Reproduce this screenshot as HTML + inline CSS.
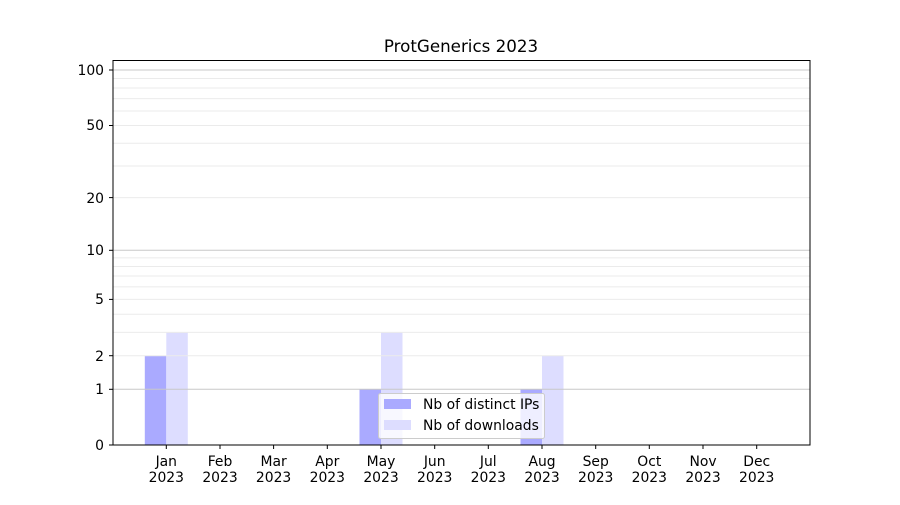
<!DOCTYPE html>
<html><head><meta charset="utf-8"><style>
body{margin:0;background:#fff}
svg text{font-family:"DejaVu Sans","Liberation Sans",sans-serif;font-size:13.9px;fill:#000}
</style></head><body>
<svg width="900" height="500" viewBox="0 0 900 500">
<rect width="900" height="500" fill="#fff"/>
<text x="461" y="52" text-anchor="middle" style="font-size:16.7px">ProtGenerics 2023</text>
<g>
<rect x="144.8" y="355.7" width="21.5" height="89.3" fill="#aaaaff"/>
<rect x="166.3" y="332.4" width="21.5" height="112.6" fill="#ddddff"/>
<rect x="359.5" y="389.3" width="21.5" height="55.7" fill="#aaaaff"/>
<rect x="381" y="332.4" width="21.5" height="112.6" fill="#ddddff"/>
<rect x="520.5" y="389.3" width="21.5" height="55.7" fill="#aaaaff"/>
<rect x="542" y="355.7" width="21.5" height="89.3" fill="#ddddff"/>
</g>
<g stroke="#ebebeb" stroke-width="1">
<line x1="113" x2="810" y1="355.7" y2="355.7"/>
<line x1="113" x2="810" y1="332.4" y2="332.4"/>
<line x1="113" x2="810" y1="314.2" y2="314.2"/>
<line x1="113" x2="810" y1="299.4" y2="299.4"/>
<line x1="113" x2="810" y1="286.9" y2="286.9"/>
<line x1="113" x2="810" y1="276" y2="276"/>
<line x1="113" x2="810" y1="266.5" y2="266.5"/>
<line x1="113" x2="810" y1="257.9" y2="257.9"/>
<line x1="113" x2="810" y1="197.6" y2="197.6"/>
<line x1="113" x2="810" y1="166" y2="166"/>
<line x1="113" x2="810" y1="143.2" y2="143.2"/>
<line x1="113" x2="810" y1="125.5" y2="125.5"/>
<line x1="113" x2="810" y1="111" y2="111"/>
<line x1="113" x2="810" y1="98.6" y2="98.6"/>
<line x1="113" x2="810" y1="88" y2="88"/>
<line x1="113" x2="810" y1="78.5" y2="78.5"/>
</g>
<g stroke="#c8c8c8" stroke-width="1">
<line x1="113" x2="810" y1="389.3" y2="389.3"/>
<line x1="113" x2="810" y1="250.3" y2="250.3"/>
<line x1="113" x2="810" y1="70" y2="70"/>
</g>
<rect x="113" y="60.5" width="697" height="384.5" fill="none" stroke="#000" stroke-width="1"/>
<g stroke="#000">
<line x1="109" x2="113" y1="445" y2="445"/>
<line x1="109" x2="113" y1="389.3" y2="389.3"/>
<line x1="109" x2="113" y1="355.7" y2="355.7"/>
<line x1="109" x2="113" y1="299.4" y2="299.4"/>
<line x1="109" x2="113" y1="250.3" y2="250.3"/>
<line x1="109" x2="113" y1="197.6" y2="197.6"/>
<line x1="109" x2="113" y1="125.5" y2="125.5"/>
<line x1="109" x2="113" y1="70" y2="70"/>
</g>
<g text-anchor="end">
<text x="104" y="450">0</text>
<text x="104" y="394">1</text>
<text x="104" y="361">2</text>
<text x="104" y="304">5</text>
<text x="104" y="255">10</text>
<text x="104" y="203">20</text>
<text x="104" y="130">50</text>
<text x="104" y="75">100</text>
</g>
<g stroke="#000">
<line x1="166.3" x2="166.3" y1="445" y2="449"/><line x1="220" x2="220" y1="445" y2="449"/>
<line x1="273.6" x2="273.6" y1="445" y2="449"/><line x1="327.3" x2="327.3" y1="445" y2="449"/>
<line x1="381" x2="381" y1="445" y2="449"/><line x1="434.7" x2="434.7" y1="445" y2="449"/>
<line x1="488.3" x2="488.3" y1="445" y2="449"/><line x1="542" x2="542" y1="445" y2="449"/>
<line x1="595.7" x2="595.7" y1="445" y2="449"/><line x1="649.3" x2="649.3" y1="445" y2="449"/>
<line x1="703" x2="703" y1="445" y2="449"/><line x1="756.7" x2="756.7" y1="445" y2="449"/>
</g>
<g text-anchor="middle">
<text x="166.3" y="466">Jan</text><text x="166.3" y="482">2023</text>
<text x="220" y="466">Feb</text><text x="220" y="482">2023</text>
<text x="273.6" y="466">Mar</text><text x="273.6" y="482">2023</text>
<text x="327.3" y="466">Apr</text><text x="327.3" y="482">2023</text>
<text x="381" y="466">May</text><text x="381" y="482">2023</text>
<text x="434.7" y="466">Jun</text><text x="434.7" y="482">2023</text>
<text x="488.3" y="466">Jul</text><text x="488.3" y="482">2023</text>
<text x="542" y="466">Aug</text><text x="542" y="482">2023</text>
<text x="595.7" y="466">Sep</text><text x="595.7" y="482">2023</text>
<text x="649.3" y="466">Oct</text><text x="649.3" y="482">2023</text>
<text x="703" y="466">Nov</text><text x="703" y="482">2023</text>
<text x="756.7" y="466">Dec</text><text x="756.7" y="482">2023</text>
</g>
<rect x="378.5" y="393.5" width="166" height="45" rx="2" fill="#fff" fill-opacity="0.8" stroke="#cccccc"/>
<rect x="384" y="399" width="27" height="10" fill="#aaaaff"/>
<rect x="384" y="420" width="27" height="10" fill="#ddddff"/>
<text x="423" y="409">Nb of distinct IPs</text>
<text x="423" y="430">Nb of downloads</text>
</svg>
</body></html>
